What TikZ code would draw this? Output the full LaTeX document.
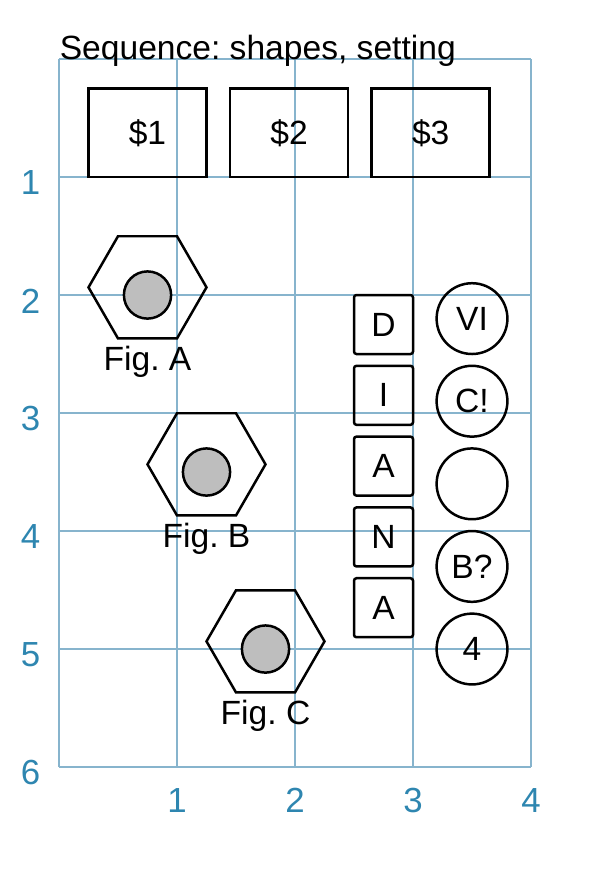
\documentclass[tikz,border=0pt]{standalone}
\usepackage{fontspec}
\setmainfont{Liberation Sans}
\frenchspacing
\definecolor{gridc}{RGB}{135,180,205}
\definecolor{axc}{RGB}{46,134,176}
\definecolor{holec}{RGB}{190,190,190}
\tikzset{
  lbl/.style={font=\fontsize{8.1}{9.7}\selectfont, inner sep=0pt},
  axlbl/.style={lbl, text=axc, font=\fontsize{8.4}{10}\selectfont},
  shapeline/.style={line width=0.6pt},
  dollarbox/.style={draw, shapeline, minimum width=1cm, minimum height=0.75cm, lbl},
  letterbox/.style={draw, shapeline, rounded corners=0.6pt, minimum width=0.5cm, minimum height=0.5cm, lbl},
  roundel/.style={draw, shapeline, circle, minimum size=0.6cm, lbl},
  hole/.style={draw, shapeline, circle, fill=holec, minimum size=0.4cm, inner sep=0pt},
  hexa/.style={draw, shapeline}
}
\begin{document}
\begin{tikzpicture}[x=1cm,y=-1cm]
\useasboundingbox (-0.5,-0.5) rectangle (4.695,6.915);
% grid
\draw[gridc, line width=0.35pt] (0,0) grid (4,6);
% axis labels
\foreach \i in {1,...,6} \node[axlbl] (yl\i) at (-0.24,\i+0.05) {\i};
\foreach \i in {1,...,4} \node[axlbl] (xl\i) at (\i,6.285) {\i};
% title
\node[lbl, anchor=base west] (title) at (0,0) {Sequence: shapes, setting};
% dollar boxes
\node[dollarbox] (d1) at (0.75,0.625) {\$1};
\node[dollarbox] (d2) at (1.95,0.625) {\$2};
\node[dollarbox] (d3) at (3.15,0.625) {\$3};
% hexagons
\foreach \n/\cx/\cy/\t in {A/0.75/2/Fig. A, B/1.25/3.5/Fig. B, C/1.75/5/Fig. C}{
  \draw[hexa] (\cx,\cy-0.065) ++(0:0.5) -- ++(120:0.5) -- ++(180:0.5) -- ++(240:0.5) -- ++(300:0.5) -- ++(0:0.5) -- cycle;
  \node[hole] (h\n) at (\cx,\cy) {};
  \node[lbl] (f\n) at (\cx,\cy+0.57) {\t};
}
% letter boxes
\node[letterbox] (L1) at (2.75,2.25) {D};
\node[letterbox] (L2) at (2.75,2.85) {I};
\node[letterbox] (L3) at (2.75,3.45) {A};
\node[letterbox] (L4) at (2.75,4.05) {N};
\node[letterbox] (L5) at (2.75,4.65) {A};
% circles
\node[roundel] (c1) at (3.5,2.2) {VI};
\node[roundel] (c2) at (3.5,2.9) {C!};
\node[roundel] (c3) at (3.5,3.6) {};
\node[roundel] (c4) at (3.5,4.3) {B?};
\node[roundel] (c5) at (3.5,5.0) {4};
\end{tikzpicture}
\end{document}
